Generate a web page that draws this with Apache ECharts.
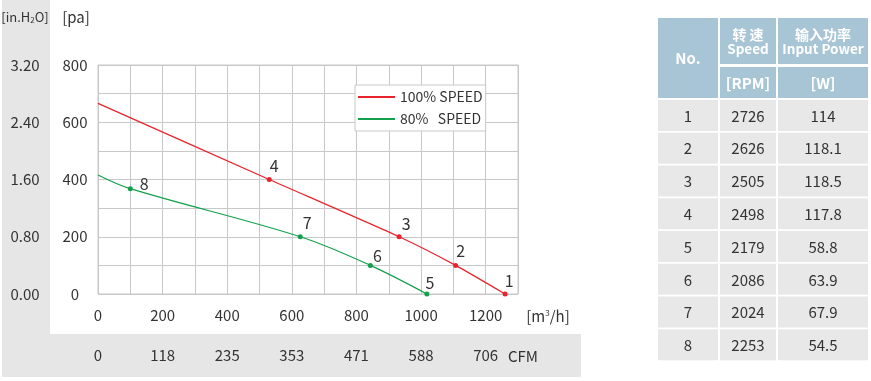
<!DOCTYPE html>
<html>
<head>
<meta charset="utf-8">
<script src="https://cdn.jsdelivr.net/npm/echarts@6/dist/echarts.min.js"></script>
<style>
html,body{margin:0;padding:0;background:#fff;}
#chart{width:871px;height:381px;}
</style>
</head>
<body>
<div id="chart"></div>
<script>
// ---- data ----
const flow100 = [0, 530, 932, 1107, 1260];
const pa100 = [666, 400, 200, 100, 0];
const pts100 = ['', '4', '3', '2', '1'];
const flow80 = [0, 100, 626, 843, 1018];
const pa80 = [416, 368, 200, 100, 0];
const pts80 = ['', '8', '7', '6', '5'];
const seriesNames = ['100% SPEED', '80%   SPEED'];
const xTicks = [0, 200, 400, 600, 800, 1000, 1200];
const cfmTicks = ['0', '118', '235', '353', '471', '588', '706'];
const tableNo = ['1', '2', '3', '4', '5', '6', '7', '8'];
const tableSpeed = ['2726', '2626', '2505', '2498', '2179', '2086', '2024', '2253'];
const tablePower = ['114', '118.1', '118.5', '117.8', '58.8', '63.9', '67.9', '54.5'];

const FONT = '"Noto Sans CJK SC", "Noto Sans", sans-serif';
const RED = '#e8232b';
const GREEN = '#12a04c';
const TXT = '#333';

// label offsets (style)
const off100 = [[0,0],[5,0],[7,1],[5,-1],[4,0]];
const off80 = [[0,0],[14,9],[7,0],[7,4],[3,2]];

function buildData(xs, ys, names, offs) {
  return xs.map((x, i) => {
    const item = { value: [x, ys[i]], name: names[i] };
    if (!names[i]) {
      item.symbol = 'none';
      item.label = { show: false };
    } else {
      item.label = { offset: offs[i] };
    }
    return item;
  });
}

const chart = echarts.init(document.getElementById('chart'), null, { renderer: 'canvas' });

// table graphics
const tbl = [];
const cols = [{ x: 658, w: 60 }, { x: 720, w: 56 }, { x: 778, w: 90 }];
const HEAD = '#a8c5d5';
tbl.push({ type: 'rect', shape: { x: cols[0].x, y: 18, width: cols[0].w, height: 80 }, style: { fill: HEAD } });
tbl.push({ type: 'rect', shape: { x: cols[1].x, y: 18, width: cols[1].w, height: 46 }, style: { fill: HEAD } });
tbl.push({ type: 'rect', shape: { x: cols[2].x, y: 18, width: cols[2].w, height: 46 }, style: { fill: HEAD } });
tbl.push({ type: 'rect', shape: { x: cols[1].x, y: 67, width: cols[1].w, height: 31 }, style: { fill: HEAD } });
tbl.push({ type: 'rect', shape: { x: cols[2].x, y: 67, width: cols[2].w, height: 31 }, style: { fill: HEAD } });
function htext(t, x, y, size) {
  return { type: 'text', x: x, y: y, style: { text: t, fill: '#fff', font: 'bold ' + size + 'px ' + FONT, align: 'center', verticalAlign: 'middle' } };
}
tbl.push(htext('No.', cols[0].x + cols[0].w / 2, 58, 15));
tbl.push(htext('转 速', cols[1].x + cols[1].w / 2, 35, 14));
tbl.push(htext('Speed', cols[1].x + cols[1].w / 2, 49, 13.5));
tbl.push(htext('输入功率', cols[2].x + cols[2].w / 2, 35, 14));
tbl.push(htext('Input Power', cols[2].x + cols[2].w / 2, 49, 13.5));
tbl.push(htext('[RPM]', cols[1].x + cols[1].w / 2, 83, 15));
tbl.push(htext('[W]', cols[2].x + cols[2].w / 2, 83, 15));
const rowVals = [tableNo, tableSpeed, tablePower];
for (let r = 0; r < tableNo.length; r++) {
  const y = 100 + r * 32.76;
  for (let c = 0; c < 3; c++) {
    tbl.push({ type: 'rect', shape: { x: cols[c].x, y: y, width: cols[c].w, height: 31 }, style: { fill: '#e8e8e8' } });
    tbl.push({ type: 'text', x: cols[c].x + cols[c].w / 2, y: y + 16, style: { text: rowVals[c][r], fill: TXT, font: '15px ' + FONT, align: 'center', verticalAlign: 'middle' } });
  }
}

const bg = [
  { type: 'rect', z: -10, shape: { x: 2, y: 0, width: 48, height: 377 }, style: { fill: '#e6e6e6' } },
  { type: 'rect', z: -10, shape: { x: 2, y: 334, width: 579, height: 43 }, style: { fill: '#e6e6e6' } },
  { type: 'text', x: 25, y: 17, style: { text: '[in.H{sub|2}O]', fill: TXT, font: '13px ' + FONT, align: 'center', verticalAlign: 'middle', rich: { sub: { fontSize: 8, verticalAlign: 'bottom', fill: TXT, fontFamily: FONT } } } },
  { type: 'text', x: 76, y: 17, style: { text: '[pa]', fill: TXT, font: '15px ' + FONT, align: 'center', verticalAlign: 'middle' } },
  { type: 'text', x: 548, y: 316, style: { text: '[m{sup|3}/h]', fill: TXT, font: '15px ' + FONT, align: 'center', verticalAlign: 'middle', rich: { sup: { fontSize: 8, verticalAlign: 'top', fill: TXT, fontFamily: FONT } } } },
  { type: 'text', x: 508, y: 356, style: { text: 'CFM', fill: TXT, font: '15px ' + FONT, align: 'left', verticalAlign: 'middle' } }
];

const axLabel = { color: TXT, fontSize: 15, fontFamily: FONT };

const option = {
  animation: false,
  backgroundColor: '#fff',
  textStyle: { fontFamily: FONT },
  grid: { left: 98, top: 65, right: 353, bottom: 87, show: true, borderColor: '#c8c8c8', borderWidth: 1, backgroundColor: '#fff' },
  legend: {
    left: 355, top: 85, orient: 'vertical',
    data: seriesNames,
    icon: 'rect', itemWidth: 37, itemHeight: 2, itemGap: 8,
    padding: [5, 3, 5, 3],
    borderColor: '#c8c8c8', borderWidth: 1, backgroundColor: '#fff',
    textStyle: { color: TXT, fontSize: 14, fontFamily: FONT }
  },
  xAxis: [
    {
      type: 'value', min: 0, max: 1300, interval: 100, position: 'bottom',
      axisLine: { show: false }, axisTick: { show: false },
      splitLine: { show: true, lineStyle: { color: '#c8c8c8', width: 1 } },
      axisLabel: Object.assign({}, axLabel, { margin: 14, formatter: v => (xTicks.indexOf(v) >= 0 ? String(v) : ''), showMaxLabel: false })
    },
    {
      type: 'value', min: 0, max: 1300, interval: 100, position: 'bottom', offset: 40,
      axisLine: { show: false }, axisTick: { show: false }, splitLine: { show: false },
      axisLabel: Object.assign({}, axLabel, { margin: 14, formatter: v => { const i = xTicks.indexOf(v); return i >= 0 ? cfmTicks[i] : ''; }, showMaxLabel: false })
    }
  ],
  yAxis: [
    {
      type: 'value', min: 0, max: 800, interval: 100, position: 'left',
      axisLine: { show: false }, axisTick: { show: false },
      splitLine: { show: true, lineStyle: { color: '#c8c8c8', width: 1 } },
      axisLabel: Object.assign({}, axLabel, { margin: 23, align: 'center', formatter: v => (v % 200 === 0 ? String(v) : '') })
    },
    {
      type: 'value', min: 0, max: 3.2, interval: 0.4, position: 'left',
      axisLine: { show: false }, axisTick: { show: false }, splitLine: { show: false },
      axisLabel: Object.assign({}, axLabel, { margin: 73, align: 'center', formatter: v => (Math.round(v / 0.4) % 2 === 0 ? v.toFixed(2) : '') })
    }
  ],
  series: [
    {
      name: seriesNames[0], type: 'line', smooth: 0.2, xAxisIndex: 0, yAxisIndex: 0,
      data: buildData(flow100, pa100, pts100, off100),
      symbol: 'circle', symbolSize: 5,
      lineStyle: { color: RED, width: 1.2 }, itemStyle: { color: RED },
      label: { show: true, position: 'top', distance: 3, formatter: p => p.name, color: TXT, fontSize: 16, fontFamily: FONT }
    },
    {
      name: seriesNames[1], type: 'line', smooth: 0.35, xAxisIndex: 0, yAxisIndex: 0,
      data: buildData(flow80, pa80, pts80, off80),
      symbol: 'circle', symbolSize: 5,
      lineStyle: { color: GREEN, width: 1.2 }, itemStyle: { color: GREEN },
      label: { show: true, position: 'top', distance: 3, formatter: p => p.name, color: TXT, fontSize: 16, fontFamily: FONT }
    }
  ],
  graphic: bg.concat(tbl)
};
chart.setOption(option);
</script>
</body>
</html>
